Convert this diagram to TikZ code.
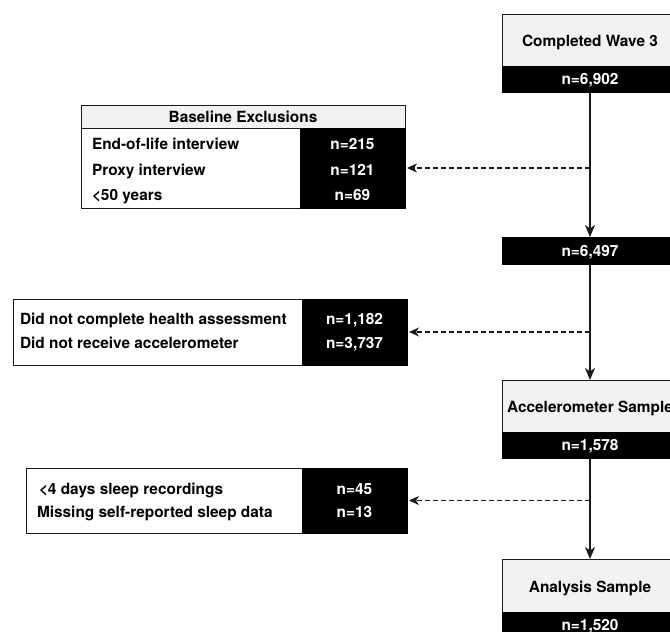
\documentclass[tikz,border=0pt]{standalone}
\usepackage{fontspec}
\setmainfont{TeX Gyre Heros}
\usetikzlibrary{arrows.meta}
\definecolor{lightfill}{HTML}{F2F2F2}
\definecolor{edge}{HTML}{1A1A1A}
\begin{document}
\begin{tikzpicture}[x=1pt,y=-1pt,
  font=\bfseries\fontsize{15.4}{18}\selectfont,
  every node/.style={inner sep=0pt, outer sep=0pt},
  graybox/.style={draw=edge, fill=lightfill, line width=1pt, anchor=north west, text height=13pt, text depth=0pt},
  headbox/.style={draw=edge, fill=lightfill, line width=1pt, anchor=north west, text height=11pt, text depth=0pt},
  whitebox/.style={draw=edge, fill=white, line width=1pt, anchor=north west},
  blackbox/.style={draw=black, fill=black, text=white, line width=1pt, anchor=north west, text height=11pt, text depth=0pt},
  rowtext/.style={anchor=base west},
  numtext/.style={anchor=base, text=white},
  arr/.style={-{Stealth[length=12pt,width=10pt,inset=3.5pt]}, line width=1.2pt, draw=edge},
  dasharr/.style={-{Stealth[length=10pt,width=9pt,inset=3pt]}, line width=1.2pt, draw=edge, dash pattern=on 5pt off 3pt, shorten >=2pt}
]
\useasboundingbox (0,0) rectangle (670,632);

% main column
\node[graybox, minimum width=176pt, minimum height=52pt] (w3) at (502,14) {Completed Wave 3};
\node[blackbox, minimum width=176pt, minimum height=26pt] (w3n) at (502,66) {n=6,902};
\node[blackbox, minimum width=176pt, minimum height=27pt] (s2) at (502,237) {n=6,497};
\node[graybox, minimum width=176pt, minimum height=52pt] (acc) at (502,380) {Accelerometer Sample};
\node[blackbox, minimum width=176pt, minimum height=26pt] (accn) at (502,432) {n=1,578};
\node[graybox, minimum width=176pt, minimum height=53pt] (ana) at (502,559) {Analysis Sample};
\node[blackbox, minimum width=176pt, minimum height=26pt] (anan) at (502,612) {n=1,520};

% exclusion 1
\node[headbox, minimum width=324pt, minimum height=23pt] (e1h) at (81,105) {Baseline Exclusions};
\node[whitebox, minimum width=324pt, minimum height=80pt] (e1) at (81,128) {};
\node[blackbox, minimum width=105pt, minimum height=80pt] (e1k) at (300,128) {};
\node[rowtext] (e1a) at (92,149.5) {End-of-life interview};
\node[rowtext] (e1b) at (92,175) {Proxy interview};
\node[rowtext] (e1c) at (92,200.5) {<50 years};
\node[numtext] (e1an) at (352.5,149.5) {n=215};
\node[numtext] (e1bn) at (352.5,175) {n=121};
\node[numtext] (e1cn) at (352.5,200.5) {n=69};

% exclusion 2
\node[whitebox, minimum width=394pt, minimum height=66pt] (e2) at (13,299) {};
\node[blackbox, minimum width=105pt, minimum height=66pt] (e2k) at (302,299) {};
\node[rowtext] (e2a) at (20,324.5) {Did not complete health assessment};
\node[rowtext] (e2b) at (20,348) {Did not receive accelerometer};
\node[numtext] (e2an) at (354.5,324.5) {n=1,182};
\node[numtext] (e2bn) at (354.5,348) {n=3,737};

% exclusion 3
\node[whitebox, minimum width=381pt, minimum height=65pt] (e3) at (26,468) {};
\node[blackbox, minimum width=105pt, minimum height=65pt] (e3k) at (302,468) {};
\node[rowtext] (e3a) at (39,494.5) {<4 days sleep recordings};
\node[rowtext] (e3b) at (37,517.5) {Missing self-reported sleep data};
\node[numtext] (e3an) at (354.5,494.5) {n=45};
\node[numtext] (e3bn) at (354.5,517.5) {n=13};

% connectors
\draw[arr] (w3n.south) -- (s2.north);
\draw[arr] (s2.south) -- (acc.north);
\draw[arr] (accn.south) -- (ana.north);
\coordinate (j1) at (e1.east -| w3n.south);
\coordinate (j2) at (e2.east -| s2.south);
\coordinate (j3) at (e3.east -| accn.south);
\draw[dasharr] (j1) -- (e1.east);
\draw[dasharr] (j2) -- (e2.east);
\draw[dasharr] (j3) -- (e3.east);
\end{tikzpicture}
\end{document}
